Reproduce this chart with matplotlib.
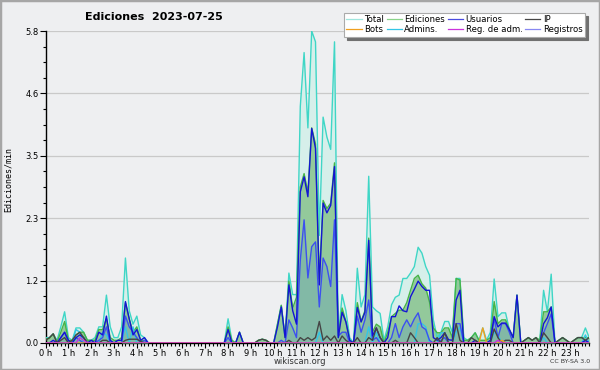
import matplotlib
matplotlib.use("Agg")
import matplotlib.pyplot as plt
from matplotlib.lines import Line2D
from matplotlib.patches import Rectangle
import numpy as np

# 10-minute bins, 144 per day, values in edits/min
hours = [f"{h} h" for h in range(24)]

total = [
    0.1, 0.1, 0.17, 0.05, 0.3, 0.58, 0.1, 0.05, 0.28, 0.28, 0.2, 0.05,
    0.05, 0.1, 0.3, 0.3, 0.89, 0.3, 0.1, 0.1, 0.3, 1.58, 0.6, 0.35,
    0.5, 0.15, 0.1, 0, 0, 0, 0, 0, 0, 0, 0, 0,
    0, 0, 0, 0, 0, 0, 0, 0, 0, 0, 0, 0,
    0.45, 0.05, 0, 0.2, 0, 0, 0, 0, 0.05, 0.07, 0.05, 0,
    0, 0.35, 0.7, 0.1, 1.3, 0.9, 0.9, 4.4, 5.4, 4.0, 5.8, 5.6,
    2.0, 4.2, 3.83, 3.6, 5.6, 0.1, 0.9, 0.6, 0.1, 0, 1.39, 0.67,
    0.9, 3.1, 0.67, 0.6, 0.55, 0.05, 0.3, 0.71, 0.85, 0.89, 1.2, 1.2,
    1.3, 1.42, 1.78, 1.67, 1.42, 1.26, 0.43, 0.1, 0.2, 0.4, 0.4, 0.19,
    1.2, 1.2, 0.1, 0.05, 0.1, 0.19, 0.05, 0.28, 0.05, 0.2, 1.19, 0.49,
    0.56, 0.56, 0.25, 0.1, 0.89, 0, 0.05, 0.1, 0.05, 0.1, 0.05, 0.98,
    0.58, 1.28, 0, 0.05, 0.1, 0.05, 0, 0.05, 0.1, 0.1, 0.28, 0.1,
]
ediciones = [
    0.08, 0.08, 0.17, 0.02, 0.2, 0.4, 0.05, 0.05, 0.15, 0.2, 0.2, 0.05,
    0.05, 0.05, 0.25, 0.25, 0.45, 0.1, 0.05, 0.05, 0.1, 0.75, 0.45, 0.2,
    0.3, 0.05, 0.05, 0, 0, 0, 0, 0, 0, 0, 0, 0,
    0, 0, 0, 0, 0, 0, 0, 0, 0, 0, 0, 0,
    0.3, 0.05, 0, 0.2, 0, 0, 0, 0, 0.05, 0.07, 0.05, 0,
    0, 0.35, 0.7, 0.1, 1.15, 0.65, 0.85, 2.9, 3.15, 2.8, 4.0, 3.7,
    1.2, 2.65, 2.5, 2.6, 3.35, 0.1, 0.65, 0.4, 0.05, 0, 0.75, 0.4,
    0.6, 1.95, 0.2, 0.35, 0.3, 0, 0.2, 0.49, 0.55, 0.61, 0.61, 0.75,
    0.98, 1.2, 1.26, 1.1, 1.02, 0.76, 0.28, 0.19, 0.19, 0.28, 0.28, 0.1,
    1.2, 1.17, 0.05, 0.05, 0.1, 0.19, 0.05, 0.05, 0.05, 0.1, 0.77, 0.36,
    0.43, 0.43, 0.25, 0.1, 0.89, 0, 0.05, 0.1, 0.05, 0.1, 0.05, 0.58,
    0.58, 0.67, 0, 0.05, 0.1, 0.05, 0, 0.05, 0.1, 0.1, 0.1, 0.1,
]
usuarios = [
    0, 0, 0.05, 0, 0.1, 0.2, 0.05, 0, 0.1, 0.15, 0.1, 0,
    0.05, 0, 0.2, 0.15, 0.5, 0.05, 0, 0.05, 0.05, 0.77, 0.45, 0.15,
    0.25, 0.05, 0.1, 0, 0, 0, 0, 0, 0, 0, 0, 0,
    0, 0, 0, 0, 0, 0, 0, 0, 0, 0, 0, 0,
    0.25, 0, 0, 0.2, 0, 0, 0, 0, 0, 0, 0, 0,
    0, 0.3, 0.67, 0.1, 1.08, 0.6, 0.35, 2.81, 3.09, 2.72, 3.99, 3.62,
    1.08, 2.6, 2.42, 2.56, 3.28, 0.1, 0.57, 0.39, 0.05, 0, 0.66, 0.39,
    0.57, 1.91, 0.13, 0.28, 0.1, 0, 0.1, 0.49, 0.49, 0.69, 0.6, 0.58,
    0.86, 1.0, 1.15, 1.05, 0.98, 0.98, 0.1, 0.05, 0.1, 0.19, 0.06, 0.05,
    0.8, 0.98, 0, 0, 0, 0.05, 0, 0, 0, 0.05, 0.49, 0.3,
    0.37, 0.37, 0.25, 0.1, 0.89, 0, 0, 0, 0, 0, 0, 0.36,
    0.47, 0.67, 0, 0, 0, 0, 0, 0, 0, 0, 0.05, 0,
]
registros = [
    0, 0, 0, 0, 0.1, 0.2, 0, 0, 0.1, 0.05, 0, 0,
    0, 0, 0.05, 0.1, 0.3, 0, 0, 0, 0, 0.5, 0.3, 0.2,
    0.1, 0, 0.05, 0, 0, 0, 0, 0, 0, 0, 0, 0,
    0, 0, 0, 0, 0, 0, 0, 0, 0, 0, 0, 0,
    0.1, 0, 0, 0, 0, 0, 0, 0, 0, 0, 0, 0,
    0, 0, 0.05, 0, 0.43, 0.28, 0.1, 1.54, 2.29, 1.21, 1.79, 1.88,
    0.67, 1.58, 1.42, 1.05, 2.29, 0.13, 0.2, 0.2, 0, 0, 0.5, 0.2,
    0.43, 0.8, 0.05, 0.1, 0, 0, 0, 0.1, 0.36, 0.1, 0.3, 0.43,
    0.3, 0.45, 0.56, 0.3, 0.25, 0.05, 0, 0, 0.05, 0.1, 0, 0,
    0.36, 0.36, 0, 0, 0, 0, 0, 0, 0, 0, 0.46, 0.1,
    0.36, 0.36, 0.2, 0, 0, 0, 0, 0, 0, 0, 0, 0.19,
    0.36, 0.54, 0, 0, 0, 0, 0, 0, 0, 0, 0.05, 0,
]
ip = [
    0.05, 0.1, 0.17, 0, 0.05, 0.1, 0, 0.05, 0.15, 0.2, 0.1, 0,
    0, 0, 0, 0.05, 0.05, 0, 0, 0, 0, 0.05, 0.07, 0.07,
    0.07, 0.03, 0, 0, 0, 0, 0, 0, 0, 0, 0, 0,
    0, 0, 0, 0, 0, 0, 0, 0, 0, 0, 0, 0,
    0, 0, 0, 0, 0, 0, 0, 0, 0.05, 0.07, 0.05, 0,
    0, 0, 0, 0, 0.05, 0, 0, 0.1, 0.05, 0.1, 0.05, 0.1,
    0.4, 0.05, 0.13, 0.05, 0.13, 0, 0.13, 0.05, 0, 0, 0.1, 0,
    0, 0.1, 0.05, 0.28, 0.1, 0, 0, 0, 0.05, 0, 0, 0,
    0.19, 0.1, 0, 0, 0, 0, 0, 0.1, 0, 0.19, 0, 0,
    0.36, 0.05, 0, 0, 0.1, 0.05, 0, 0, 0, 0, 0.26, 0.1,
    0, 0.05, 0.05, 0, 0, 0, 0.05, 0.1, 0.05, 0.1, 0, 0.19,
    0.1, 0, 0, 0.05, 0.1, 0.05, 0, 0.05, 0.1, 0.1, 0.05, 0.1,
]
admins = [
    0, 0, 0, 0, 0, 0, 0, 0, 0.25, 0.2, 0, 0,
    0, 0, 0, 0.2, 0.15, 0, 0, 0, 0, 0.3, 0, 0.3,
    0, 0, 0, 0, 0, 0, 0, 0, 0, 0, 0, 0,
    0, 0, 0, 0, 0, 0, 0, 0, 0, 0, 0, 0,
    0, 0, 0, 0, 0, 0, 0, 0, 0, 0, 0, 0,
    0, 0, 0, 0, 0, 0, 0, 0, 0, 0, 0, 0,
    0.2, 0, 0, 0, 0, 0, 0, 0, 0, 0, 0, 0,
    0, 0.3, 0, 0.2, 0, 0, 0, 0, 0, 0, 0, 0,
    0, 0, 0.36, 0.36, 0.3, 0, 0, 0, 0.19, 0.19, 0, 0,
    0.2, 0.3, 0, 0, 0, 0, 0, 0, 0, 0, 0.2, 0.15,
    0, 0, 0, 0, 0, 0, 0, 0, 0, 0, 0, 0.1,
    0, 0, 0, 0, 0, 0, 0, 0, 0, 0, 0.15, 0,
]
bots = [0] * 115 + [0.28, 0, 0, 0, 0, 0.05] + [0] * 23
reg_adm = [0] * 9 + [0.1, 0.05] + [0] * 108 + [0.05] + [0] * 24

bg = "#eeeff1"
c_total = "#3fd6c6"
c_edic = "#46b446"
c_usu = "#1414d4"
c_ip = "#454545"
c_bots = "#f0a020"
c_adm = "#33c6e6"
c_regadm = "#cc33dd"
c_reg = "#3c50f0"

fig = plt.figure(figsize=(6, 3.7), dpi=100, facecolor=bg)
ax = fig.add_axes([0.076, 0.073, 0.906, 0.843], facecolor=bg)

x = np.arange(len(total))
ax.fill_between(x, total, color="#d6efea", lw=0, zorder=1)
ax.fill_between(x, ediciones, color="#93c99b", lw=0, zorder=2)
ax.fill_between(x, registros, color="#82b9a6", lw=0, zorder=3)

lw = 1.0
ax.plot(x, total, color=c_total, lw=lw, zorder=4)
ax.plot(x, ediciones, color=c_edic, lw=lw, zorder=5)
ax.plot(x, admins, color=c_adm, lw=lw, zorder=6)
ax.plot(x, registros, color=c_reg, lw=lw, zorder=7)
ax.plot(x, usuarios, color=c_usu, lw=lw, zorder=8)
ax.plot(x, ip, color=c_ip, lw=lw, zorder=9)
ax.plot(x, bots, color=c_bots, lw=lw, zorder=10)
ax.plot(x, reg_adm, color=c_regadm, lw=lw, zorder=10)

ymax = 5.8
ax.set_xlim(0, 143)
ax.set_ylim(0, ymax)
yt = [ymax * k / 5 for k in range(6)]
ax.set_yticks(yt)
ax.set_yticklabels([f"{v:.1f}" for v in yt])
ax.set_yticks([ymax * k / 20 for k in range(21)], minor=True)
ax.set_xticks(np.arange(0, 144, 6))
ax.set_xticklabels(hours)
ax.set_xticks(np.arange(0, 144, 1), minor=True)
ax.tick_params(axis="both", which="major", labelsize=6, direction="out", width=0.8)
ax.tick_params(axis="y", which="major", length=4, pad=1)
ax.tick_params(axis="x", which="major", length=3.5, pad=0.5)
ax.tick_params(axis="both", which="minor", length=2.2, width=0.8)
for v in yt[1:]:
    ax.axhline(v, color="#c9c9c9", lw=0.9, zorder=0)
for s in ["top", "right"]:
    ax.spines[s].set_visible(False)
ax.spines["left"].set_linewidth(1)
ax.spines["bottom"].set_linewidth(1)

fig.text(0.257, 0.953, "Ediciones  2023-07-25", fontsize=8, fontweight="bold",
         ha="center", va="center")
fig.text(0.014, 0.516, "Ediciones/min", rotation=90, family="DejaVu Sans Mono",
         fontsize=6, ha="center", va="center")
fig.text(0.5, 0.024, "wikiscan.org", fontsize=6, ha="center", va="center", color="#333333")
fig.text(0.983, 0.024, "CC BY-SA 3.0", fontsize=4.5, ha="right", va="center", color="#333333")

names = ["Total", "Bots", "Ediciones", "Admins.", "Usuarios", "Reg. de adm.", "IP", "Registros"]
cols = ["#9fe6de", c_bots, "#8ad48a", c_adm, "#4a4ae0", c_regadm, c_ip, "#8888f2"]
handles = [Line2D([], [], color=c, lw=0.9) for c in cols]
leg = fig.legend(handles, names, ncol=4, loc="upper right", bbox_to_anchor=(0.975, 0.966),
                 fontsize=6.1, frameon=True, fancybox=False, edgecolor="#aaaaaa",
                 facecolor="white", framealpha=1,
                 shadow={"color": "#707070", "alpha": 1, "ox": 2.2, "oy": -2.2},
                 handlelength=1.8, handletextpad=0.3, columnspacing=0.3,
                 labelspacing=0.1, borderpad=0.3, borderaxespad=0)
leg.get_frame().set_linewidth(0.8)
leg.set_zorder(20)

fig.patches.append(Rectangle((0, 0), 1, 1, transform=fig.transFigure, fill=False,
                             edgecolor="#a6a6a6", linewidth=2.5))

fig.savefig("out.png", dpi=100, facecolor=bg)
